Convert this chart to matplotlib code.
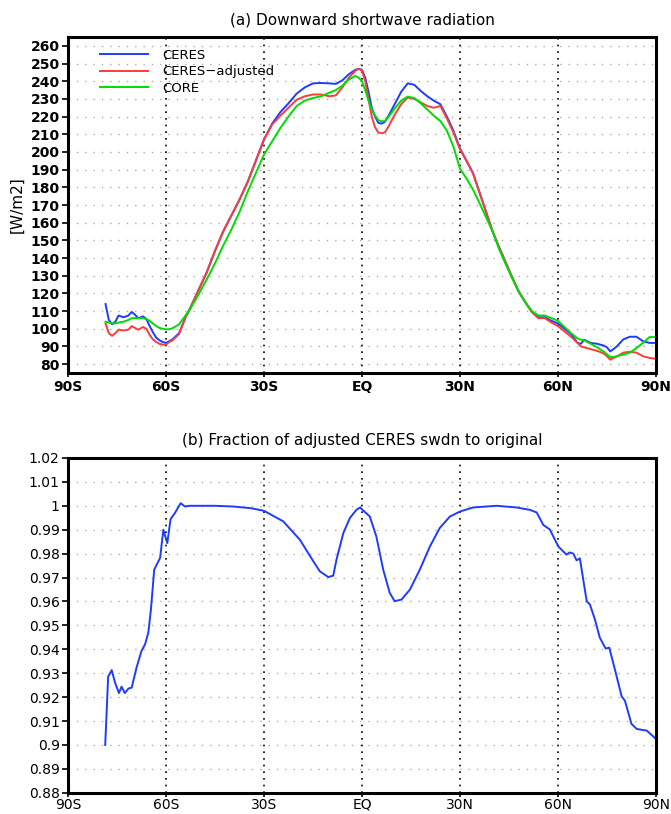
import numpy as np
import matplotlib
matplotlib.use("Agg")
import matplotlib.pyplot as plt

# ---- panel (a) data: zonal mean downward SW [W/m2] ----
lat_a = [-78.5, -77.5, -76.5, -75.5, -74.5, -73, -71.5, -70.5, -69.5, -68.5,
         -67, -66, -65, -64, -63, -62, -61, -60, -59, -58,
         -56, -54, -52.5, -50, -47.5, -45, -42.5, -40, -37.5, -35,
         -32.5, -30, -27.5, -25, -22.5, -20, -17.5, -15, -12.5, -10,
         -8, -6, -4, -2, -1, 0, 1, 2, 3, 4,
         5, 6, 7, 8, 10, 12, 14, 16, 18, 20,
         22, 24, 26, 28, 30, 32, 34, 36, 38, 40,
         42, 44, 46, 48, 50, 52, 54, 56, 58, 60,
         62, 64, 66, 67, 68, 70, 72, 74, 75, 76,
         77, 78, 80, 82, 84, 86, 88, 90]

ceres = [114, 105, 102.5, 104, 107.5, 106.5, 107.5, 109.5, 108, 106,
         107, 105.5, 101.5, 98, 95, 93.5, 92.5, 92, 93, 94,
         97.5, 106.5, 112, 122, 132, 144, 155, 164, 173, 183,
         195, 207, 216, 222.5, 227.5, 233, 236.5, 238.8, 239, 238.8,
         238.5, 240.5, 244, 246.5, 247, 246.5, 242, 234, 225, 220,
         216.5, 216, 217, 220, 227, 234, 238.8, 238, 234.5, 231.5,
         229, 227, 220, 212, 202, 195, 188, 177, 166, 155,
         146, 137.5, 129, 121, 115, 109.5, 106.5, 106.5, 104.5, 103,
         100, 97, 92, 91.5, 93.8, 92, 91.5, 90.5, 89.5, 87.2,
         88.5, 90, 94, 95.5, 95.5, 93, 92, 92]

ceres_adj = [103, 97.5, 96, 97.5, 99.5, 99, 99.5, 101.5, 100.5, 99.5,
             101, 100, 96.5, 94, 92.5, 91.5, 91, 91, 92.5, 93.5,
             97, 106.5, 112, 122, 132, 144, 155, 164, 173, 183,
             195, 207, 215.5, 220.5, 225, 229.5, 231.5, 232.5, 232.5, 231.5,
             232, 236.5, 242, 246, 247, 246, 240, 230, 220, 214,
             211, 210.6, 211, 214, 221, 227, 230.8, 230, 228, 226,
             225, 226, 219, 211, 201.5, 195, 188, 177, 166, 155,
             146, 137.5, 129, 121, 115, 109.5, 106, 106, 103.5, 101.5,
             98.5, 95.5, 92, 90, 89.5, 88.5, 87.5, 86, 84.5, 82.5,
             83.5, 84.3, 86.5, 87, 86.5, 84.5, 83.5, 83]

core = [104, 103.5, 103, 103, 103.5, 104, 105, 106, 106, 106,
        106, 105.5, 104.5, 103, 101.5, 100.5, 100, 99.7, 99.7, 100.3,
        102.5, 107.5, 111.5, 119.5, 128, 137, 147, 156, 166, 177.5,
        188, 198.5, 206, 213.5, 220, 226, 229, 230.5, 231.5, 233.5,
        235, 237.5, 241, 243, 242, 240, 235, 229, 224, 220.5,
        218, 217.3, 217.5, 219.5, 224.5, 229, 231.3, 230.5, 227.5, 224,
        220.5, 217.5, 212, 203, 190.5, 185, 178.7, 171, 163, 155,
        145, 136.5, 128.5, 121, 115, 110, 107.5, 107.5, 106, 104.5,
        101, 97.5, 94.5, 93.8, 93.5, 91.5, 89.5, 87, 85.5, 84,
        84, 84.5, 85.3, 86.5, 89, 92, 95.3, 95.3]

# ---- panel (b) data: ratio adjusted / original ----
lat_b = [-78.6, -77.7, -76.6, -75.6, -74.4, -73.6, -72.6, -71.5, -70.5, -69,
         -67.5, -66.4, -65.4, -64.6, -63.6, -61.8, -60.8, -59.6, -58.6, -57.3,
         -55.5, -54.2, -52.8, -45, -39.4, -34, -30, -24.1, -19, -14.9,
         -12.9, -10.3, -8.8, -7.8, -5.7, -3.7, -1.7, -0.6, 2.4, 4.4,
         6.5, 8.5, 10, 12.1, 14.7, 17.7, 20.8, 23.8, 26.9, 30,
         34, 41.2, 47.3, 51.4, 53.5, 55.5, 57.5, 60.1, 62.6, 63.6,
         64.7, 65.7, 66.7, 68.8, 69.8, 71.3, 72.8, 74.6, 75.7, 77.4,
         79.5, 80.5, 82.5, 84.1, 87.2, 89.7]

ratio = [0.900, 0.9286, 0.9313, 0.9261, 0.9217, 0.9244, 0.9217, 0.9236, 0.924, 0.9324,
         0.9393, 0.9421, 0.947, 0.9567, 0.9733, 0.9782, 0.990, 0.9844, 0.9944, 0.9969,
         1.0011, 0.9997, 1.0, 1.0, 0.9997, 0.999, 0.9979, 0.9935, 0.9858, 0.9768,
         0.9726, 0.9702, 0.9708, 0.9775, 0.9886, 0.9949, 0.9983, 0.9993, 0.9955, 0.9872,
         0.9733, 0.9636, 0.9601, 0.9608, 0.965, 0.9733, 0.983, 0.9907, 0.9955, 0.9976,
         0.9993, 1.0, 0.9993, 0.9983, 0.9972, 0.992, 0.9901, 0.983, 0.9796, 0.9805,
         0.980, 0.9772, 0.978, 0.9601, 0.9587, 0.9525, 0.9449, 0.9403, 0.9407, 0.9317,
         0.9203, 0.9185, 0.9088, 0.9067, 0.906, 0.9029]

xticks = [-90, -60, -30, 0, 30, 60, 90]
xlabels = ["90S", "60S", "30S", "EQ", "30N", "60N", "90N"]

c_blue = (30/255, 60/255, 1.0)
c_red = (250/255, 60/255, 60/255)
c_green = (0.0, 220/255, 0.0)


def style_axes(ax, yticks, ylabels, bold, xpad=2):
    ax.set_xlim(-90, 90)
    ax.set_xticks(xticks)
    ax.set_xticklabels(xlabels)
    ax.set_yticks(yticks)
    ax.set_yticklabels(ylabels)
    wt = "bold" if bold else "normal"
    for lab in ax.get_xticklabels() + ax.get_yticklabels():
        lab.set_fontsize(10)
        lab.set_fontweight(wt)
    ax.tick_params(direction="out", length=4, width=1.2, pad=2)
    ax.tick_params(axis="x", length=3, pad=xpad)
    for s in ax.spines.values():
        s.set_linewidth(2.2)
    # gray dotted horizontal grid, black dotted verticals
    for y in yticks:
        ax.axhline(y, color="#aaaaaa", lw=1.0, ls=(0, (1, 5)), zorder=0)
    for x in xticks[1:-1]:
        ax.axvline(x, color="black", lw=1.2, ls=(0, (1, 3)), zorder=0)


fig = plt.figure(figsize=(6.71, 8.14), dpi=100)
ax1 = fig.add_axes([0.1013, 0.5418, 0.8763, 0.4127])
ax2 = fig.add_axes([0.1013, 0.0260, 0.8763, 0.4114])

# (a)
ax1.plot(lat_a, ceres, color=c_blue, lw=1.4, label="CERES")
ax1.plot(lat_a, ceres_adj, color=c_red, lw=1.4, label="CERES\u2212adjusted")
ax1.plot(lat_a, core, color=c_green, lw=1.4, label="CORE")
ax1.set_ylim(75, 265)
yt_a = list(range(80, 261, 10))
style_axes(ax1, yt_a, [str(v) for v in yt_a], True)
ax1.set_ylabel("[W/m2]", fontsize=11, labelpad=4)
ax1.set_title("(a) Downward shortwave radiation", fontsize=11, pad=9)
ax1.legend(loc="upper left", bbox_to_anchor=(0.035, 1.0), frameon=False,
           handlelength=3.6, handletextpad=1.1, labelspacing=0.25, fontsize=9.5)

# (b)
ax2.plot(lat_b, ratio, color=c_blue, lw=1.4)
ax2.set_ylim(0.88, 1.02)
yt_b = [0.88, 0.89, 0.9, 0.91, 0.92, 0.93, 0.94, 0.95, 0.96, 0.97, 0.98, 0.99, 1.0, 1.01, 1.02]
lb_b = ["0.88", "0.89", "0.9", "0.91", "0.92", "0.93", "0.94", "0.95", "0.96",
        "0.97", "0.98", "0.99", "1", "1.01", "1.02"]
style_axes(ax2, yt_b, lb_b, False, xpad=0.5)
ax2.set_title("(b) Fraction of adjusted CERES swdn to original", fontsize=11, pad=9)

fig.savefig("out.png", dpi=100)
